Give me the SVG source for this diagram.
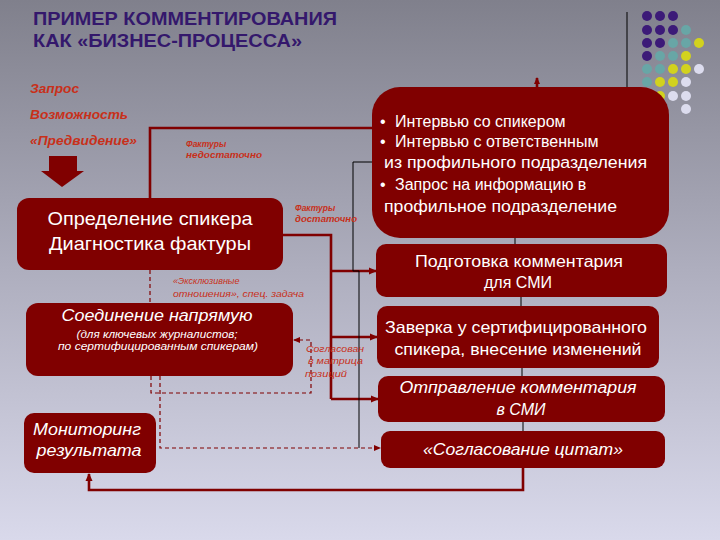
<svg xmlns="http://www.w3.org/2000/svg" width="720" height="540" viewBox="0 0 720 540">
<defs>
<linearGradient id="bg" x1="0" y1="0" x2="0" y2="1">
<stop offset="0" stop-color="#80808c"/>
<stop offset="0.5" stop-color="#aeaebe"/>
<stop offset="1" stop-color="#d9d9eb"/>
</linearGradient>
<marker id="ah" markerWidth="8" markerHeight="8" refX="7" refY="4" orient="auto" markerUnits="userSpaceOnUse">
<path d="M0,0.5 L8,4 L0,7.5 Z" fill="#800000"/>
</marker>
<marker id="ahs" markerWidth="7" markerHeight="7" refX="6" refY="3.5" orient="auto" markerUnits="userSpaceOnUse">
<path d="M0,0.5 L7,3.5 L0,6.5 Z" fill="#800000"/>
</marker>
</defs>
<style>
.box{fill:#800000;}
.t{font-family:"Liberation Sans",Arial,sans-serif;fill:#ffffff;}
.it{font-style:italic;}
.lab{font-family:"Liberation Sans",Arial,sans-serif;fill:#c8301a;font-style:italic;}
.red{fill:none;stroke:#800000;stroke-width:2.6;}
.dash{fill:none;stroke:#800000;stroke-width:1.2;stroke-dasharray:4 3;}
.blk{fill:none;stroke:#000000;stroke-width:1;}
</style>
<rect x="0" y="0" width="720" height="540" fill="url(#bg)"/>

<g id="title">
<text x="33" y="25" font-family="'Liberation Sans',Arial,sans-serif" font-weight="bold" font-size="18" fill="#34186c" textLength="304" lengthAdjust="spacingAndGlyphs">ПРИМЕР КОММЕНТИРОВАНИЯ</text>
<text x="33" y="47" font-family="'Liberation Sans',Arial,sans-serif" font-weight="bold" font-size="18" fill="#34186c" textLength="269" lengthAdjust="spacingAndGlyphs">КАК «БИЗНЕС-ПРОЦЕССА»</text>
</g>

<g id="dots">
<line x1="627" y1="12" x2="627" y2="87" stroke="#000" stroke-width="1"/>
<g fill="#3c1a78">
<circle cx="647" cy="16" r="5"/><circle cx="660" cy="16" r="5"/><circle cx="673" cy="16" r="5"/>
<circle cx="647" cy="30" r="5"/><circle cx="660" cy="30" r="5"/><circle cx="673" cy="30" r="5"/>
<circle cx="647" cy="43" r="5"/><circle cx="660" cy="43" r="5"/>
<circle cx="647" cy="56" r="5"/>
</g>
<g fill="#68a6a6">
<circle cx="686" cy="30" r="5"/>
<circle cx="673" cy="43" r="5"/><circle cx="686" cy="43" r="5"/>
<circle cx="660" cy="56" r="5"/><circle cx="673" cy="56" r="5"/>
<circle cx="647" cy="69" r="5"/><circle cx="660" cy="69" r="5"/>
<circle cx="647" cy="82" r="5"/>
</g>
<g fill="#d2d21e">
<circle cx="699" cy="43" r="5"/>
<circle cx="686" cy="56" r="5"/>
<circle cx="673" cy="69" r="5"/><circle cx="686" cy="69" r="5"/>
<circle cx="660" cy="82" r="5"/><circle cx="673" cy="82" r="5"/>
<circle cx="660" cy="96" r="5"/>
</g>
<g fill="#dcdcee">
<circle cx="699" cy="69" r="5"/>
<circle cx="686" cy="82" r="5"/>
<circle cx="673" cy="96" r="5"/><circle cx="686" cy="96" r="5"/>
<circle cx="686" cy="109" r="5"/>
</g>
</g>

<g id="start-labels">
<text class="lab" x="30" y="93" font-size="12.5" font-weight="bold" textLength="49" lengthAdjust="spacingAndGlyphs">Запрос</text>
<text class="lab" x="30" y="119" font-size="12.5" font-weight="bold" textLength="98" lengthAdjust="spacingAndGlyphs">Возможность</text>
<text class="lab" x="30" y="145" font-size="12.5" font-weight="bold" textLength="107" lengthAdjust="spacingAndGlyphs">«Предвидение»</text>
<path d="M49,156 H77 V171 H84 L62,187 L41,171 H49 Z" fill="#800000"/>
</g>

<g id="connectors">
<path class="red" d="M150,198 V128 H373"/>
<path class="red" d="M283,235 H331 V399"/>
<path class="red" d="M331,271 H376" marker-end="url(#ah)"/>
<path class="red" d="M331,337 H377" marker-end="url(#ah)"/>
<path class="red" d="M331,399 H378" marker-end="url(#ah)"/>
<path class="red" d="M523,468 V490 H89 V474" marker-end="url(#ah)"/>
<path class="red" d="M537,87 V78" stroke-width="2" marker-end="url(#ahs)"/>
<path class="blk" d="M373,162 H353 V271 H359 V448"/>
<path class="blk" d="M515,238 V244 M521,297 V306 M522,368 V376 M523,422 V431"/>
<path class="dash" d="M150,270 V303"/>
<path class="dash" d="M151,376 V393 H311 V340 H294" marker-end="url(#ahs)"/>
<path class="dash" d="M160,376 V448 H380" marker-end="url(#ahs)"/>
<text class="lab" x="186" y="147" font-size="8.5" font-weight="bold">Фактуры</text>
<text class="lab" x="186" y="158" font-size="8.5" font-weight="bold" textLength="76" lengthAdjust="spacingAndGlyphs">недостаточно</text>
<text class="lab" x="295" y="211" font-size="8.5" font-weight="bold">Фактуры</text>
<text class="lab" x="295" y="222" font-size="8.5" font-weight="bold" textLength="62" lengthAdjust="spacingAndGlyphs">достаточно</text>
<text class="lab" x="173" y="284" font-size="9">«Эксклюзивные</text>
<text class="lab" x="173" y="297" font-size="9" textLength="131" lengthAdjust="spacingAndGlyphs">отношения», спец. задача</text>
<text class="lab" x="306" y="352" font-size="9.5" textLength="58" lengthAdjust="spacingAndGlyphs">Согласован</text>
<text class="lab" x="308" y="364" font-size="9.5" textLength="55" lengthAdjust="spacingAndGlyphs">в матрица</text>
<text class="lab" x="305" y="377" font-size="9.5" textLength="42" lengthAdjust="spacingAndGlyphs">позиций</text>
</g>

<g id="node-define">
<rect class="box" x="17" y="198" width="266" height="72" rx="12"/>
<text class="t" x="150" y="225" font-size="19" text-anchor="middle" textLength="205" lengthAdjust="spacingAndGlyphs">Определение спикера</text>
<text class="t" x="150" y="250" font-size="19" text-anchor="middle" textLength="202" lengthAdjust="spacingAndGlyphs">Диагностика фактуры</text>
</g>

<g id="node-interview">
<rect class="box" x="372" y="87" width="297" height="151" rx="28"/>
<text class="t" x="380" y="127" font-size="16">•<tspan x="395">Интервью со спикером</tspan></text>
<text class="t" x="380" y="147" font-size="16">•<tspan x="395">Интервью с ответственным</tspan></text>
<text class="t" x="384" y="168" font-size="16" textLength="263" lengthAdjust="spacingAndGlyphs">из профильного подразделения</text>
<text class="t" x="380" y="190" font-size="16">•<tspan x="395">Запрос на информацию в</tspan></text>
<text class="t" x="384" y="212" font-size="16" textLength="233" lengthAdjust="spacingAndGlyphs">профильное подразделение</text>
</g>

<g id="node-prepare">
<rect class="box" x="376" y="244" width="291" height="53" rx="10"/>
<text class="t" x="519" y="267" font-size="16" text-anchor="middle" textLength="208" lengthAdjust="spacingAndGlyphs">Подготовка комментария</text>
<text class="t" x="518" y="288" font-size="16" text-anchor="middle">для СМИ</text>
</g>

<g id="node-approve">
<rect class="box" x="377" y="306" width="282" height="62" rx="10"/>
<text class="t" x="516" y="333" font-size="16.5" text-anchor="middle" textLength="262" lengthAdjust="spacingAndGlyphs">Заверка у сертифицированного</text>
<text class="t" x="518" y="355" font-size="16.5" text-anchor="middle" textLength="247" lengthAdjust="spacingAndGlyphs">спикера, внесение изменений</text>
</g>

<g id="node-send">
<rect class="box" x="378" y="376" width="287" height="46" rx="10"/>
<text class="t it" x="518" y="393" font-size="16" text-anchor="middle" textLength="237" lengthAdjust="spacingAndGlyphs">Отправление комментария</text>
<text class="t it" x="521" y="415" font-size="16" text-anchor="middle">в СМИ</text>
</g>

<g id="node-quotes">
<rect class="box" x="381" y="431" width="284" height="37" rx="9"/>
<text class="t it" x="523" y="455" font-size="17" text-anchor="middle" textLength="200" lengthAdjust="spacingAndGlyphs">«Согласование цитат»</text>
</g>

<g id="node-direct">
<rect class="box" x="26" y="303" width="267" height="73" rx="12"/>
<text class="t it" x="157" y="321" font-size="16" text-anchor="middle" textLength="191" lengthAdjust="spacingAndGlyphs">Соединение напрямую</text>
<text class="t it" x="157" y="338" font-size="10.5" text-anchor="middle" textLength="161" lengthAdjust="spacingAndGlyphs">(для ключевых журналистов;</text>
<text class="t it" x="158" y="350" font-size="10.5" text-anchor="middle" textLength="200" lengthAdjust="spacingAndGlyphs">по сертифицированным спикерам)</text>
</g>

<g id="node-monitor">
<rect class="box" x="24" y="413" width="132" height="60" rx="10"/>
<text class="t it" x="87" y="435" font-size="16" text-anchor="middle" textLength="108" lengthAdjust="spacingAndGlyphs">Мониторинг</text>
<text class="t it" x="89" y="456" font-size="16" text-anchor="middle" textLength="105" lengthAdjust="spacingAndGlyphs">результата</text>
</g>
</svg>
